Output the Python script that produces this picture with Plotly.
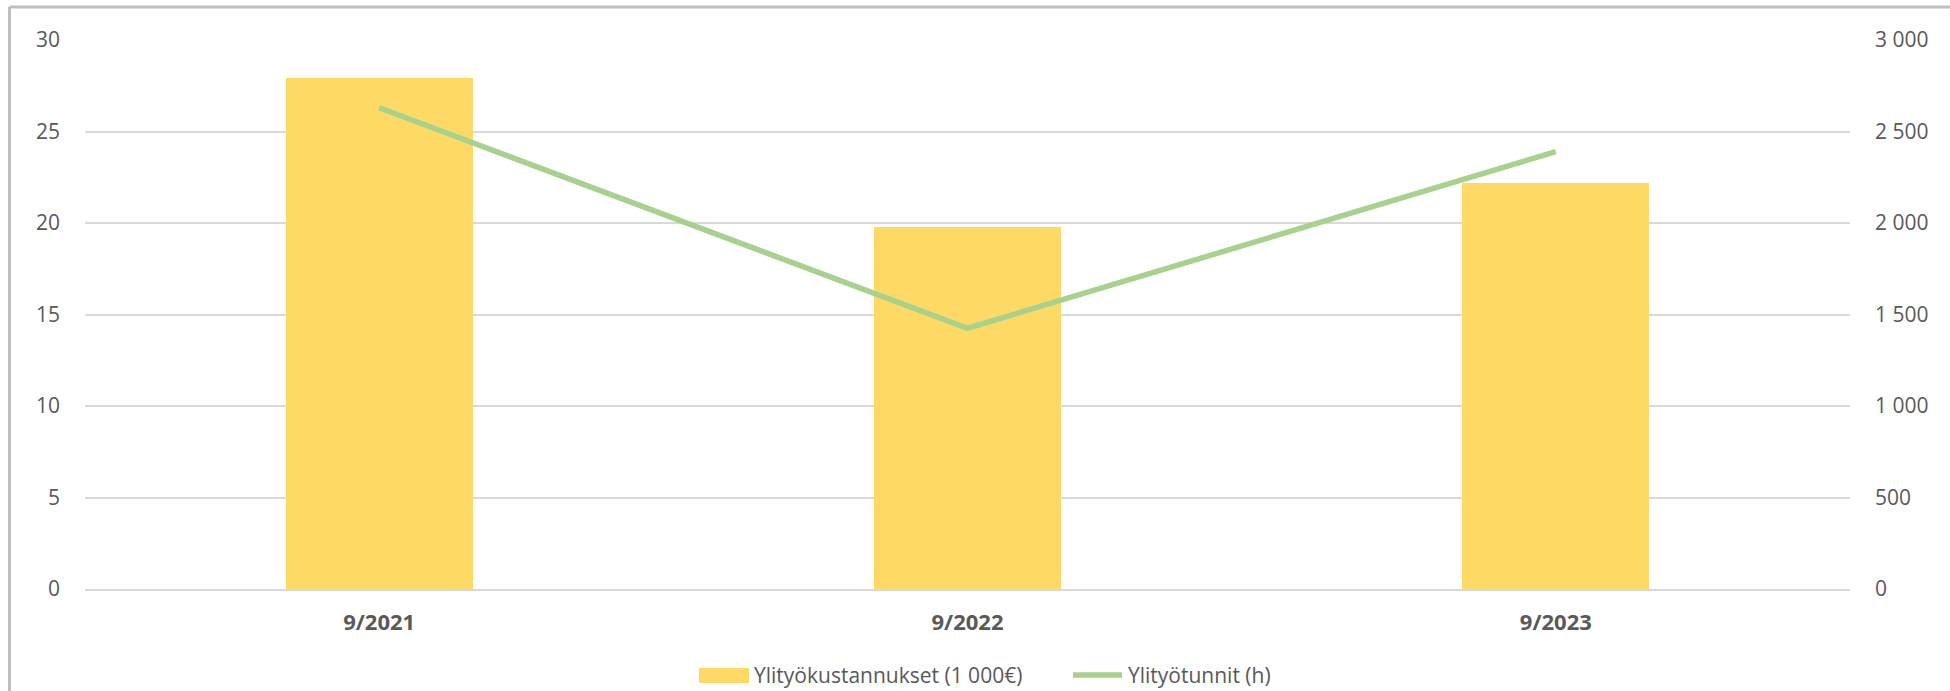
import plotly.graph_objects as go

categories = ["9/2021", "9/2022", "9/2023"]
costs = [27.9, 19.8, 22.2]          # Ylityökustannukset (1 000€)
hours = [2630, 1425, 2390]          # Ylityötunnit (h)
series_names = ["Ylityökustannukset (1 000€)", "Ylityötunnit (h)"]

left_tickvals = [0, 5, 10, 15, 20, 25, 30]
right_tickvals = [0, 500, 1000, 1500, 2000, 2500, 3000]
right_ticktext = ["0", "500", "1 000", "1 500", "2 000", "2 500", "3 000"]

FONT = "Open Sans, Noto Sans, sans-serif"
TXT = "#595959"
BAR_COLOR = "#ffd966"
LINE_COLOR = "#a9d18e"

W, H = 1950, 691
L, R, T, B = 85, 100, 40, 102
PW, PH = W - L - R, H - T - B


def px(x):
    return (x - L) / PW


def py(y):
    return (H - B - y) / PH


fig = go.Figure()
fig.add_trace(go.Bar(
    x=categories, y=costs, name=series_names[0],
    marker=dict(color=BAR_COLOR, line=dict(width=0)), width=0.318, yaxis="y",
))
fig.add_trace(go.Scatter(
    x=categories, y=hours, name=series_names[1], mode="lines",
    line=dict(color=LINE_COLOR, width=5.5), yaxis="y2",
))

fig.update_layout(
    width=W, height=H,
    margin=dict(l=L, r=R, t=T, b=B, autoexpand=False),
    paper_bgcolor="white", plot_bgcolor="white",
    font=dict(family=FONT, size=21, color=TXT),
    showlegend=False,
    xaxis=dict(showgrid=False, showline=True, linecolor="#d9d9d9", linewidth=2,
               ticks="", tickfont=dict(size=22, color=TXT, family=FONT, weight="bold"),
               ticklabelstandoff=13),
    yaxis=dict(range=[0, 30], tickvals=left_tickvals, showgrid=True, gridcolor="#d9d9d9",
               gridwidth=1.5, zeroline=False, showline=False, ticks="",
               ticklabelstandoff=24, tickfont=dict(size=21, color=TXT)),
    yaxis2=dict(range=[0, 3000], tickvals=right_tickvals, ticktext=right_ticktext,
                overlaying="y", side="right", showgrid=False, zeroline=False,
                showline=False, ticks="", ticklabelstandoff=24,
                tickfont=dict(size=21, color=TXT)),
    bargap=0,
)

# chart-area border (top and left edges visible)
fig.add_shape(type="line", xref="paper", yref="paper",
              x0=px(9.5), x1=px(1960), y0=py(7), y1=py(7),
              line=dict(color="#bfbfbf", width=3))
fig.add_shape(type="line", xref="paper", yref="paper",
              x0=px(9.5), x1=px(9.5), y0=py(7), y1=py(700),
              line=dict(color="#bfbfbf", width=3))

# legend drawn manually
fig.add_shape(type="rect", xref="paper", yref="paper",
              x0=px(699), x1=px(749), y0=py(683), y1=py(668),
              fillcolor=BAR_COLOR, line=dict(width=0))
fig.add_annotation(xref="paper", yref="paper", x=px(752), y=py(675),
                   text=series_names[0], showarrow=False, xanchor="left",
                   yanchor="middle", font=dict(size=21, color=TXT))
fig.add_shape(type="line", xref="paper", yref="paper",
              x0=px(1073), x1=px(1122), y0=py(675), y1=py(675),
              line=dict(color=LINE_COLOR, width=5.5))
fig.add_annotation(xref="paper", yref="paper", x=px(1126), y=py(675),
                   text=series_names[1], showarrow=False, xanchor="left",
                   yanchor="middle", font=dict(size=21, color=TXT))

fig.write_html(
    "out.html",
    config={"displayModeBar": False},
    post_script="document.body.style.margin='0';document.body.style.overflow='hidden';",
)
